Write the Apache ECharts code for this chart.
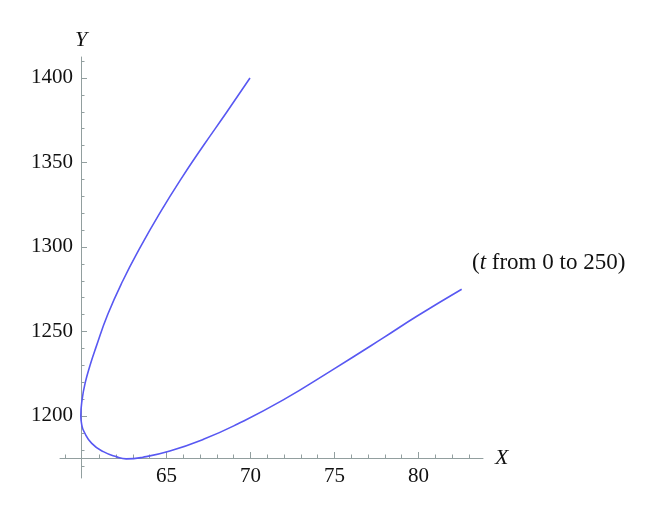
<!DOCTYPE html>
<html>
<head>
<meta charset="utf-8">
<script src="https://cdn.jsdelivr.net/npm/echarts@6/dist/echarts.min.js"></script>
<style>
  html, body { margin: 0; padding: 0; background: #fff; }
  #chart { width: 660px; height: 515px; }
</style>
</head>
<body>
<div id="chart"></div>
<script>
// curve points, from the upper end round the bend to the right end
const curveX = [69.97, 68.6, 67.2, 65.85, 64.6, 63.45, 62.4, 61.5, 60.78, 60.45, 60.17, 59.98, 59.9, 59.96, 60.09, 60.55, 61.24, 62.04, 62.6, 63.6, 65.2, 67.2, 69.2, 71.95, 74.93, 77.9, 79.9, 82.57]
const curveY = [1400, 1380, 1360, 1340, 1320, 1300, 1280, 1260, 1240, 1230, 1220, 1210, 1200, 1194.5, 1190.7, 1183.8, 1178.9, 1175.8, 1174.6, 1175.6, 1179.3, 1186.2, 1195.1, 1209.5, 1227.6, 1246.2, 1259, 1275]

// tick labels
const xLabels = [65, 70, 75, 80]
const yLabels = [1200, 1250, 1300, 1350, 1400]
const xMinor = [59, 61, 62, 63, 64, 66, 67, 68, 69, 71, 72, 73, 74, 76, 77, 78, 79, 81, 82, 83]
const yMinor = [1170, 1180, 1190, 1210, 1220, 1230, 1240, 1260, 1270, 1280, 1290, 1310, 1320, 1330, 1340, 1360, 1370, 1380, 1390, 1410]

const axisColor = '#929f9f'
const serif = 'Liberation Serif'

const chart = echarts.init(document.getElementById('chart'))

// axis range (axes cross inside the box, so lines are moved with offset)
const xMin = 58.66, xMax = 83.84
const yMin = 1163.3, yMax = 1412.4

function xAxisBase(extra) {
  return Object.assign({
    type: 'value',
    min: xMin,
    max: xMax,
    position: 'bottom',
    offset: -20,
    splitLine: { show: false },
    axisLine: { show: false, onZero: false }
  }, extra)
}
function yAxisBase(extra) {
  return Object.assign({
    type: 'value',
    min: yMin,
    max: yMax,
    position: 'left',
    offset: -21,
    splitLine: { show: false },
    axisLine: { show: false, onZero: false }
  }, extra)
}

const option = {
  animation: false,
  grid: {
    left: 60,
    right: 177,
    top: 57,
    bottom: 37,
    containLabel: false,
    outerBoundsMode: 'none'
  },
  xAxis: [
    xAxisBase({
      name: 'X',
      nameLocation: 'end',
      nameGap: 12,
      nameTextStyle: { fontFamily: serif, fontStyle: 'italic', fontSize: 22, color: '#111' },
      axisLine: { show: true, onZero: false, lineStyle: { color: axisColor, width: 1 } },
      axisTick: { show: true, inside: true, length: 6, customValues: xLabels, lineStyle: { color: axisColor } },
      axisLabel: { show: true, customValues: xLabels, margin: 8, fontFamily: serif, fontSize: 21, color: '#111', formatter: v => String(v) }
    }),
    // minor ticks
    xAxisBase({
      axisTick: { show: true, inside: true, length: 3.5, customValues: xMinor, lineStyle: { color: axisColor } },
      axisLabel: { show: false }
    })
  ],
  yAxis: [
    yAxisBase({
      name: 'Y',
      nameLocation: 'end',
      nameGap: 6,
      nameTextStyle: { fontFamily: serif, fontStyle: 'italic', fontSize: 22, color: '#111', align: 'center' },
      axisLine: { show: true, onZero: false, lineStyle: { color: axisColor, width: 1 } },
      axisTick: { show: true, inside: true, length: 6, customValues: yLabels, lineStyle: { color: axisColor } },
      axisLabel: { show: true, customValues: yLabels, margin: 8, fontFamily: serif, fontSize: 21, color: '#111', formatter: v => String(v) }
    }),
    yAxisBase({
      axisTick: { show: true, inside: true, length: 3.5, customValues: yMinor, lineStyle: { color: axisColor } },
      axisLabel: { show: false }
    })
  ],
  graphic: [{
    type: 'text',
    left: 472,
    top: 251,
    style: {
      text: '({i|t} from 0 to 250)',
      fontFamily: serif,
      fontSize: 23,
      fill: '#111',
      rich: {
        i: { fontFamily: serif, fontStyle: 'italic', fontSize: 23 }
      }
    }
  }],
  series: [{
    type: 'line',
    xAxisIndex: 0,
    yAxisIndex: 0,
    data: curveX.map((x, i) => [x, curveY[i]]),
    smooth: 0.5,
    showSymbol: false,
    lineStyle: { color: '#5858f2', width: 1.6 }
  }]
}
chart.setOption(option)
</script>
</body>
</html>
